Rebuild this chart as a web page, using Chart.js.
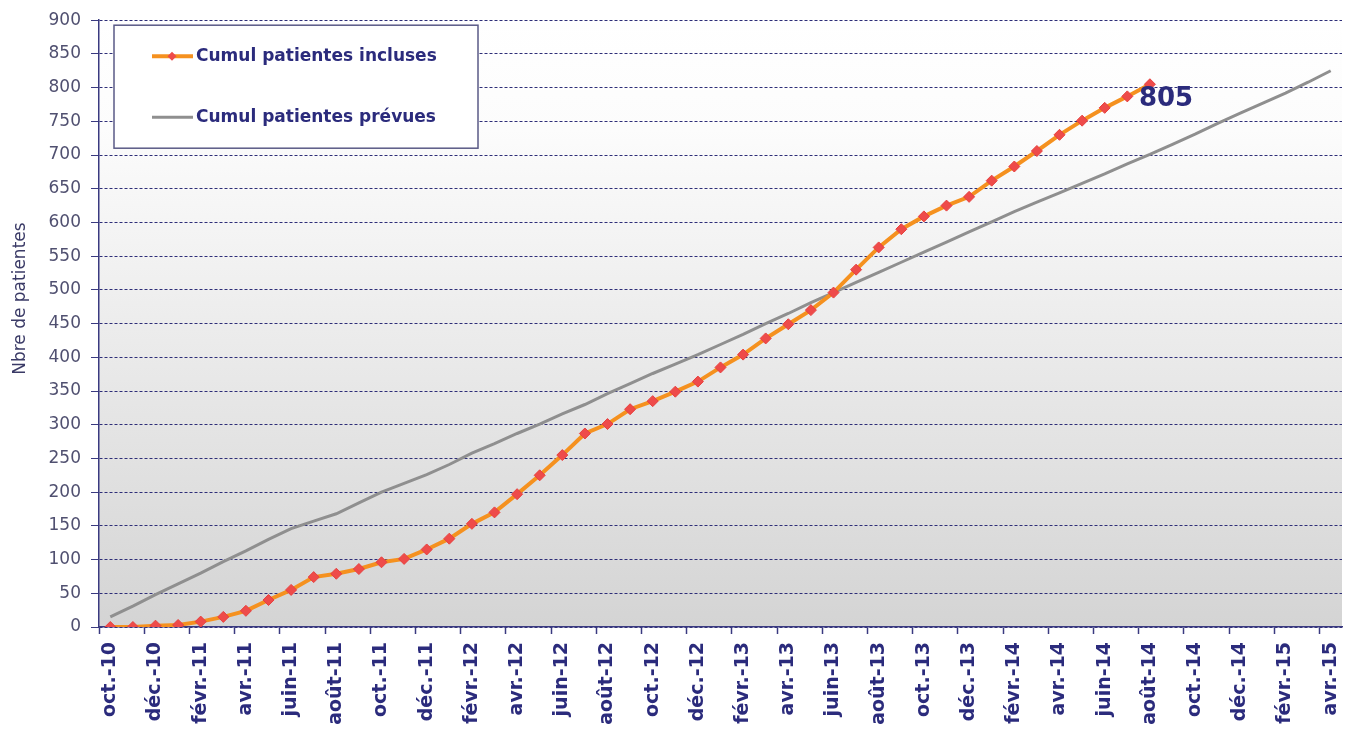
<!DOCTYPE html>
<html lang="fr">
<head>
<meta charset="utf-8">
<title>Inclusions cumulées</title>
<script src="https://cdn.jsdelivr.net/npm/chart.js@4/dist/chart.umd.min.js"></script>
<style>
  html, body { margin: 0; padding: 0; background: #ffffff; }
  #wrap { width: 1354px; height: 737px; }
</style>
</head>
<body>
<div id="wrap"><canvas id="inclusions" width="1354" height="737"></canvas></div>
<script>
// Mois d'octobre 2010 à avril 2015
const mois = [
  'oct.-10', 'nov.-10', 'déc.-10',
  'janv.-11', 'févr.-11', 'mars-11', 'avr.-11', 'mai-11', 'juin-11',
  'juil.-11', 'août-11', 'sept.-11', 'oct.-11', 'nov.-11', 'déc.-11',
  'janv.-12', 'févr.-12', 'mars-12', 'avr.-12', 'mai-12', 'juin-12',
  'juil.-12', 'août-12', 'sept.-12', 'oct.-12', 'nov.-12', 'déc.-12',
  'janv.-13', 'févr.-13', 'mars-13', 'avr.-13', 'mai-13', 'juin-13',
  'juil.-13', 'août-13', 'sept.-13', 'oct.-13', 'nov.-13', 'déc.-13',
  'janv.-14', 'févr.-14', 'mars-14', 'avr.-14', 'mai-14', 'juin-14',
  'juil.-14', 'août-14', 'sept.-14', 'oct.-14', 'nov.-14', 'déc.-14',
  'janv.-15', 'févr.-15', 'mars-15', 'avr.-15'
];

// Cumul des patientes incluses (jusqu'à août 2014)
const incluses = [
  0, 0, 2, 3, 8, 15, 24, 40, 55, 74, 79, 86, 96, 101, 115,
  131, 153, 170, 197, 225, 255, 287, 301, 323, 335, 349, 364,
  385, 404, 428, 449, 470, 496, 530, 563, 590, 609, 625, 638,
  662, 683, 706, 730, 751, 770, 787, 805
];

// Cumul des patientes prévues
const prevues = [
  15, 31, 48, 64, 80, 97, 113, 130, 146, 157, 168, 184, 200, 213, 226,
  241, 258, 272, 287, 301, 316, 330, 346, 361, 376, 390, 404,
  419, 434, 450, 465, 481, 496, 511, 526, 541, 556, 571, 586,
  601, 616, 630, 644, 658, 672, 687, 701, 716, 731, 747, 762,
  777, 792, 808, 825
];

const yTicks = { min: 0, max: 900, step: 50 };
const titreY = 'Nbre de patientes';

const NAVY = '#2b2b7c';
const AXIS = '#3a3a80';

// Fond dégradé blanc -> gris dans la zone de tracé
const fondDegrade = {
  id: 'fondDegrade',
  beforeDraw(chart) {
    const { ctx, chartArea: a } = chart;
    const g = ctx.createLinearGradient(0, a.top, 0, a.bottom);
    g.addColorStop(0, '#ffffff');
    g.addColorStop(0.18, '#fcfcfc');
    g.addColorStop(1, '#d4d4d4');
    ctx.save();
    ctx.fillStyle = g;
    ctx.fillRect(a.left, a.top, a.right - a.left, a.bottom - a.top);
    ctx.restore();
  }
};

// Titre de l'axe vertical, un peu au-dessus du milieu
const titreAxeY = {
  id: 'titreAxeY',
  afterDraw(chart) {
    const { ctx, chartArea: a } = chart;
    ctx.save();
    ctx.translate(21, (a.top + a.bottom) / 2 - 25);
    ctx.rotate(-Math.PI / 2);
    ctx.fillStyle = '#3a3a66';
    ctx.font = '17px "DejaVu Sans"';
    ctx.textAlign = 'center';
    ctx.textBaseline = 'middle';
    ctx.fillText(titreY, 0, 0);
    ctx.restore();
  }
};

// Cadre de légende en haut à gauche
const cadreLegende = {
  id: 'cadreLegende',
  afterDraw(chart) {
    const { ctx, chartArea: a } = chart;
    const x = a.left + 15, y = a.top + 5, w = 364, h = 123;
    ctx.save();
    ctx.fillStyle = '#ffffff';
    ctx.fillRect(x, y, w, h);
    ctx.strokeStyle = '#5a5a86';
    ctx.lineWidth = 1.5;
    ctx.strokeRect(x, y, w, h);

    const rows = [
      { ds: chart.data.datasets[0], cy: y + 31, marker: true },
      { ds: chart.data.datasets[1], cy: y + 92, marker: false }
    ];
    rows.forEach(r => {
      ctx.strokeStyle = r.ds.borderColor;
      ctx.lineWidth = r.ds.borderWidth;
      ctx.beginPath();
      ctx.moveTo(x + 38, r.cy);
      ctx.lineTo(x + 79, r.cy);
      ctx.stroke();
      if (r.marker) {
        ctx.fillStyle = r.ds.pointBackgroundColor;
        ctx.beginPath();
        ctx.moveTo(x + 58, r.cy - 4.5);
        ctx.lineTo(x + 62.5, r.cy);
        ctx.lineTo(x + 58, r.cy + 4.5);
        ctx.lineTo(x + 53.5, r.cy);
        ctx.closePath();
        ctx.fill();
      }
      ctx.fillStyle = NAVY;
      ctx.font = 'bold 17px "DejaVu Sans"';
      ctx.textBaseline = 'middle';
      ctx.textAlign = 'left';
      ctx.fillText(r.ds.label, x + 82, r.cy);
    });
    ctx.restore();
  }
};

// Valeur du dernier point inclus
const derniereValeur = {
  id: 'derniereValeur',
  afterDatasetsDraw(chart) {
    const { ctx } = chart;
    const meta = chart.getDatasetMeta(0);
    const last = meta.data[meta.data.length - 1];
    const val = incluses[incluses.length - 1];
    ctx.save();
    ctx.fillStyle = NAVY;
    ctx.font = 'bold 26px "DejaVu Sans"';
    ctx.textAlign = 'left';
    ctx.textBaseline = 'middle';
    ctx.fillText(String(val), last.x - 11, last.y + 15);
    ctx.restore();
  }
};

new Chart(document.getElementById('inclusions'), {
  type: 'line',
  data: {
    labels: mois,
    datasets: [
      {
        label: 'Cumul patientes incluses',
        data: incluses,
        borderColor: '#f5911f',
        borderWidth: 4,
        pointStyle: 'rectRot',
        pointRadius: 5.5,
        pointBackgroundColor: '#ee4b4a',
        pointBorderColor: '#e8403f',
        pointBorderWidth: 1,
        tension: 0
      },
      {
        label: 'Cumul patientes prévues',
        data: prevues,
        borderColor: '#8f8f8f',
        borderWidth: 3,
        pointRadius: 0,
        tension: 0
      }
    ]
  },
  options: {
    responsive: false,
    devicePixelRatio: 1,
    animation: false,
    layout: { padding: { top: 17, right: 12, left: 0, bottom: 0 } },
    plugins: {
      legend: { display: false },
      tooltip: { enabled: false }
    },
    scales: {
      x: {
        offset: true,
        grid: {
          offset: true,
          drawOnChartArea: false,
          drawTicks: true,
          tickLength: 7,
          tickWidth: 1.5,
          tickColor: c => (c.index % 2 === 0 ? AXIS : 'rgba(0,0,0,0)')
        },
        border: { display: true, color: AXIS, width: 1.5 },
        ticks: {
          autoSkip: false,
          minRotation: 90,
          maxRotation: 90,
          padding: 8,
          color: NAVY,
          font: { family: 'DejaVu Sans', size: 19, weight: 'bold' },
          callback: (v, i) => (i % 2 === 0 ? mois[i] : '')
        },
        afterFit(scale) {
          scale.height = 110;
          scale.paddingLeft = 0;
          scale.paddingRight = 0;
        }
      },
      y: {
        min: yTicks.min,
        max: yTicks.max,
        ticks: {
          stepSize: yTicks.step,
          padding: 10,
          color: '#505070',
          font: { family: 'DejaVu Sans', size: 17 }
        },
        grid: {
          color: '#2e2e78',
          lineWidth: 1,
          tickLength: 8,
          tickColor: AXIS,
          tickWidth: 1
        },
        border: { display: true, color: AXIS, width: 1.5, dash: [3, 2] },
        afterFit(scale) { scale.width = 99; }
      }
    }
  },
  plugins: [fondDegrade, titreAxeY, cadreLegende, derniereValeur]
});
</script>
</body>
</html>
